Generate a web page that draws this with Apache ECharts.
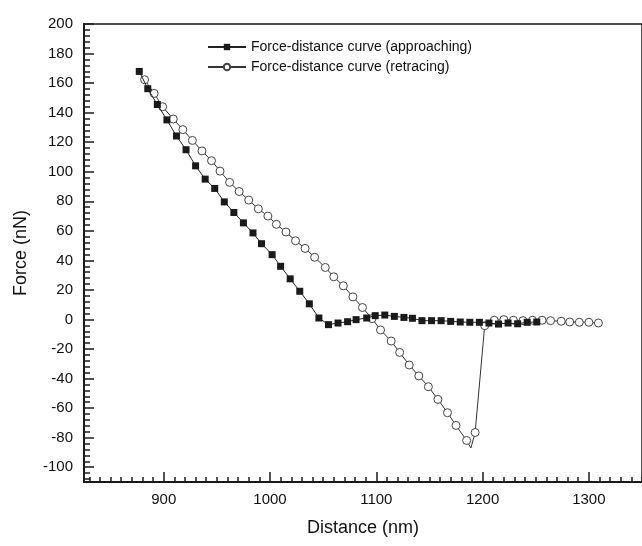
<!DOCTYPE html>
<html>
<head>
<meta charset="utf-8">
<script src="https://cdn.jsdelivr.net/npm/echarts@6/dist/echarts.min.js"></script>
<style>
html,body{margin:0;padding:0;background:#fff;}
#chart{width:642px;height:546px;}
</style>
</head>
<body>
<div id="chart"></div>
<script>
// ---- data ----
const approachX = [877, 885, 894, 903, 912, 921, 930, 939, 948, 957, 966, 975, 984, 992, 1002, 1010, 1019, 1028, 1037, 1046, 1055, 1064, 1073, 1081, 1091, 1099, 1108, 1117, 1126, 1134, 1143, 1152, 1161, 1170, 1179, 1188, 1197, 1206, 1215, 1224, 1233, 1242, 1251];
const approachF = [167.9, 156.2, 145.5, 135.1, 124.2, 114.9, 104.0, 95.0, 88.7, 79.6, 72.4, 65.4, 58.6, 51.3, 43.9, 36.0, 27.5, 19.1, 10.6, 1.0, -3.5, -2.4, -1.5, -0.1, 1.0, 2.6, 3.0, 2.1, 1.4, 0.8, -0.8, -0.8, -0.8, -1.3, -1.7, -1.9, -1.9, -2.4, -3.1, -2.4, -2.9, -1.9, -1.7];
const retraceX = [882, 891, 899, 909, 918, 927, 936, 945, 953, 962, 971, 980, 989, 998, 1006, 1015, 1024, 1033, 1042, 1052, 1060, 1069, 1078, 1087, 1096, 1104, 1114, 1122, 1131, 1140, 1149, 1158, 1167, 1175, 1185, 1189, 1193, 1202, 1211, 1220, 1229, 1238, 1247, 1256, 1264, 1274, 1282, 1291, 1300, 1309];
const retraceF = [162.3, 153.0, 144.0, 135.7, 128.5, 121.2, 114.1, 107.5, 100.4, 92.8, 86.6, 80.8, 74.9, 70.0, 64.4, 59.2, 53.3, 48.1, 42.1, 35.2, 28.9, 22.8, 15.3, 8.1, 0.6, -7.1, -14.6, -22.3, -30.8, -38.2, -45.5, -54.1, -63.1, -71.7, -81.9, -87.0, -76.5, -4.2, -0.5, -0.1, -0.5, -0.8, -0.5, -0.5, -0.8, -1.2, -1.7, -1.9, -1.9, -2.4];
const seriesNames = ['Force-distance curve (approaching)', 'Force-distance curve (retracing)'];
const xMajorTicks = [900, 1000, 1100, 1200, 1300];
const yMajorTicks = [-100, -80, -60, -40, -20, 0, 20, 40, 60, 80, 100, 120, 140, 160, 180, 200];
const axisTitles = { x: 'Distance (nm)', y: 'Force (nN)' };

// ---- build ----
const X_MIN = 825, X_MAX = 1350, Y_MIN = -110, Y_MAX = 200;
const xMinor = []; for (let v = 830; v <= X_MAX; v += 10) xMinor.push(v);
const yMinor = []; for (let v = -108; v <= Y_MAX; v += 4) yMinor.push(v);

const approachData = approachX.map((x, i) => [x, approachF[i]]);
let minIdx = 0;
retraceF.forEach((v, i) => { if (v < retraceF[minIdx]) minIdx = i; });
const retraceData = retraceX.map((x, i) => {
  const d = { value: [x, retraceF[i]] };
  if (i === minIdx) d.symbol = 'none';
  return d;
});

const FONT = '"Liberation Sans", Arial, Helvetica, sans-serif';
const chart = echarts.init(document.getElementById('chart'), null, { renderer: 'canvas' });

const plain = v => String(v);
const baseX = {
  type: 'value', min: X_MIN, max: X_MAX, gridIndex: 0,
  splitLine: { show: false }
};
const baseY = {
  type: 'value', min: Y_MIN, max: Y_MAX, gridIndex: 0,
  splitLine: { show: false }
};

chart.setOption({
  animation: false,
  backgroundColor: '#ffffff',
  grid: { left: 84, right: -9, top: 24, bottom: 64, show: true, borderColor: '#1a1a1a', borderWidth: 1.5, backgroundColor: 'transparent' },
  legend: {
    data: seriesNames, orient: 'vertical', left: 207, top: 40,
    itemWidth: 38, itemHeight: 8, itemGap: 6, padding: 0,
    textStyle: { fontFamily: FONT, fontSize: 14, color: '#111' }
  },
  xAxis: [
    Object.assign({}, baseX, {
      position: 'bottom',
      name: axisTitles.x, nameLocation: 'middle', nameGap: 37,
      nameTextStyle: { fontFamily: FONT, fontSize: 18, color: '#111' },
      axisLine: { show: true, onZero: false, lineStyle: { color: '#1a1a1a', width: 2 } },
      axisTick: { show: true, inside: true, length: 10, customValues: xMajorTicks, lineStyle: { color: '#1a1a1a', width: 1.5 } },
      axisLabel: { show: true, customValues: xMajorTicks, formatter: plain, margin: 10, fontFamily: FONT, fontSize: 15, color: '#111' }
    }),
    Object.assign({}, baseX, {
      position: 'bottom',
      axisLine: { show: false, onZero: false },
      axisTick: { show: true, inside: true, length: 5, customValues: xMinor, lineStyle: { color: '#1a1a1a', width: 1.5 } },
      axisLabel: { show: false }
    })
  ],
  yAxis: [
    Object.assign({}, baseY, {
      position: 'left',
      name: axisTitles.y, nameLocation: 'middle', nameGap: 54, nameRotate: 90,
      nameTextStyle: { fontFamily: FONT, fontSize: 18, color: '#111' },
      axisLine: { show: true, onZero: false, lineStyle: { color: '#1a1a1a', width: 2 } },
      axisTick: { show: true, inside: true, length: 10, customValues: yMajorTicks, lineStyle: { color: '#1a1a1a', width: 1.5 } },
      axisLabel: { show: true, customValues: yMajorTicks, formatter: plain, margin: 11, fontFamily: FONT, fontSize: 15, color: '#111' }
    }),
    Object.assign({}, baseY, {
      position: 'left',
      axisLine: { show: false, onZero: false },
      axisTick: { show: true, inside: true, length: 6, customValues: yMinor, lineStyle: { color: '#1a1a1a', width: 1.5 } },
      axisLabel: { show: false }
    })
  ],
  series: [
    {
      name: seriesNames[0], type: 'line', xAxisIndex: 0, yAxisIndex: 0,
      data: approachData, symbol: 'rect', symbolSize: 7,
      lineStyle: { color: '#222', width: 1 },
      itemStyle: { color: '#1a1a1a', borderColor: '#1a1a1a', borderWidth: 0 },
      z: 3
    },
    {
      name: seriesNames[1], type: 'line', xAxisIndex: 0, yAxisIndex: 0,
      data: retraceData, symbol: 'circle', symbolSize: 8,
      lineStyle: { color: '#333', width: 1 },
      itemStyle: { color: '#ffffff', borderColor: '#444', borderWidth: 1 },
      z: 2
    }
  ]
});
</script>
</body>
</html>
